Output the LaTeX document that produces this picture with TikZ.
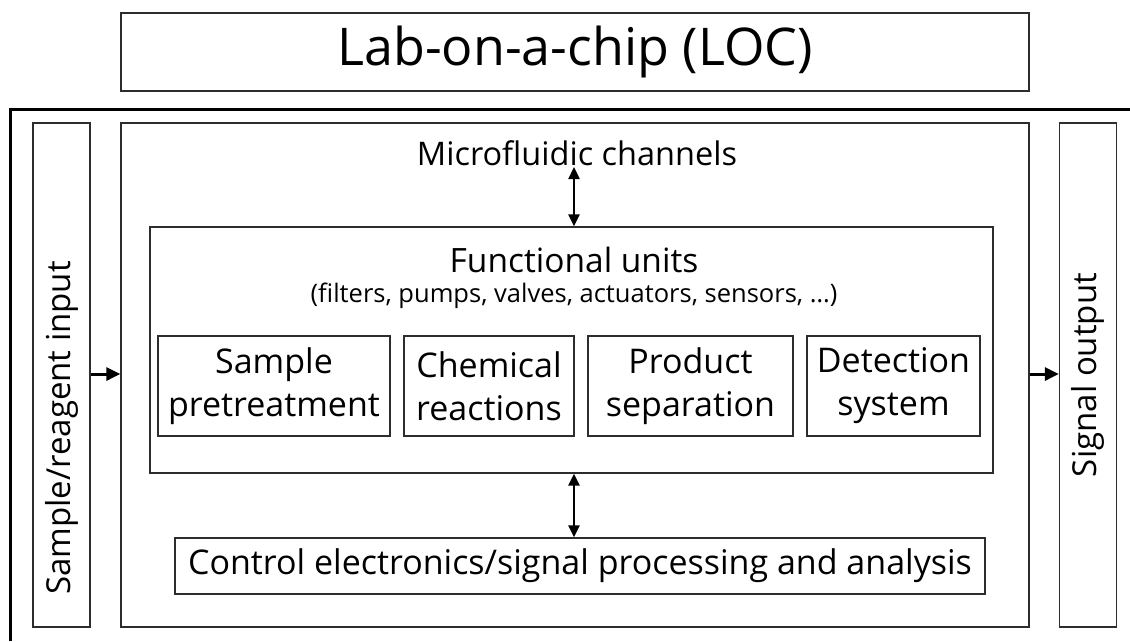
\documentclass[tikz,border=0pt]{standalone}
\usepackage{fontspec}
\setmainfont{Open Sans}
\usetikzlibrary{arrows.meta, positioning}
\definecolor{cFrame}{RGB}{0,0,0}
\definecolor{cEdge}{RGB}{45,45,45}
\tikzset{
    box/.style      ={rectangle, draw=cEdge, line width=1.3pt, align=center, inner sep=0pt},
    unit/.style     ={box, minimum height=100pt, font=\fontsize{34}{43}\selectfont},
    sidebox/.style  ={box, minimum width=57pt, minimum height=504pt},
    sidetext/.style ={rotate=90, font=\fontsize{33}{36}\selectfont},
    flowarrow/.style={-{Triangle[length=14pt, width=13pt]}, line width=3pt},
    linkarrow/.style={{Triangle[length=12pt, width=11pt]}-{Triangle[length=12pt, width=11pt]}, line width=2.4pt},
}
\begin{document}
\begin{tikzpicture}[x=1pt, y=-1pt]
    \useasboundingbox (0,0) rectangle (1130,641);
    % title
    \node[box, minimum width=908pt, minimum height=78pt, font=\fontsize{52}{58}\selectfont] (title) at (575,52) {Lab-on-a-chip (LOC)};
    % chip frame, cut at the page edge
    \draw[draw=cFrame, line width=3pt] (10,641) -- (10,109) -- (1130,109);
    % input, chip body, output
    \node[sidebox] (input)  at (61.5,375) {};
    \node[sidetext] at (61.5,428) {Sample/reagent input};
    \node[box, minimum width=908pt, minimum height=504pt] (chip) at (575,375) {};
    \node[sidebox] (output) at (1088,375) {};
    \node[sidetext] at (output) {Signal output};
    \node[font=\fontsize{32.5}{36}\selectfont] (micro) at (577,153) {Microfluidic channels};
    % functional units
    \node[box, minimum width=843pt, minimum height=246pt] (func) at (571.5,350) {};
    \node[font=\fontsize{33.5}{36}\selectfont] (funclabel) at (574,260) {Functional units};
    \node[font=\fontsize{25.5}{28}\selectfont] (funclist) at (574,296) {(filters, pumps, valves, actuators, sensors, \dots)};
    \node[unit, minimum width=232pt] (pretreat) at (274,386)   {Sample\\pretreatment};
    \node[unit, minimum width=170pt] (react)    at (489,386)   {Chemical\\reactions};
    \node[unit, minimum width=205pt] (separate) at (690.5,386) {Product\\separation};
    \node[unit, minimum width=173pt] (detect)   at (893.5,386) {Detection\\system};
    % electronics
    \node[box, minimum width=810pt, minimum height=56pt, font=\fontsize{34}{38}\selectfont] (control) at (580,566) {Control electronics/signal processing and analysis};
    % connectors
    \coordinate (flow) at (0,374);
    \coordinate (linktop) at (574,167);
    \draw[flowarrow] (input.east |- flow) -- (chip.west |- flow);
    \draw[flowarrow] (chip.east |- flow) -- (output.west |- flow);
    \draw[linkarrow] (linktop) -- (linktop |- func.north);
    \draw[linkarrow] (func.south -| linktop) -- (control.north -| linktop);
\end{tikzpicture}
\end{document}
